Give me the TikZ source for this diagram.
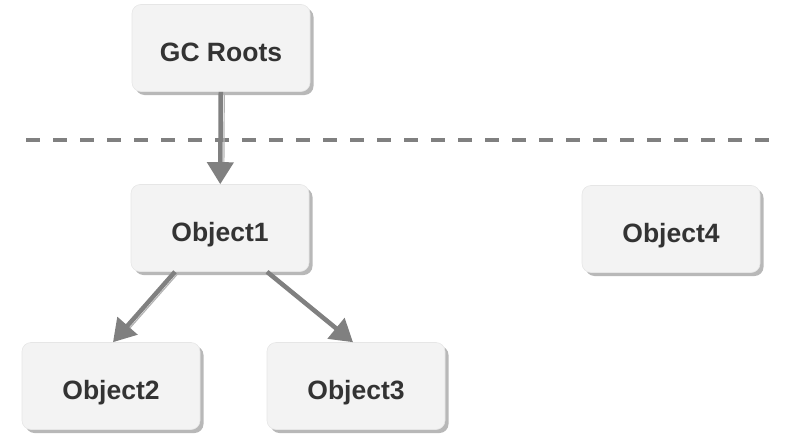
\documentclass[tikz,border=0pt]{standalone}
\usepackage{fontspec}
\setsansfont{Liberation Sans}
\usetikzlibrary{arrows.meta, positioning, shadows}
\definecolor{cfill}{HTML}{F3F3F3}
\definecolor{cedge}{HTML}{E6E6E6}
\definecolor{cshadow}{HTML}{B8B8B8}
\definecolor{cline}{HTML}{808080}
\definecolor{ctext}{HTML}{333333}
\tikzset{
  every picture/.style={font=\sffamily\bfseries\fontsize{26.5}{30}\selectfont, line width=1.2pt},
  box/.style={draw=cedge, line width=0.6pt, fill=cfill, rounded corners=9pt, text=ctext,
    minimum width=178pt, minimum height=87pt, text height=28pt, text depth=1.4pt,
    drop shadow={shadow xshift=3.5pt, shadow yshift=-3.5pt, fill=cshadow, opacity=1}},
  arrow/.style={-{Triangle[length=22pt,width=26pt]}, draw=cline, line width=4.5pt,
    preaction={draw=cline!60, -, shorten >=18pt, transform canvas={shift={(3.5pt,-1pt)}}}},
  cut/.style={draw=cline, line width=4.5pt, dash pattern=on 13.5pt off 13.5pt},
}

\begin{document}
\begin{tikzpicture}[x=1pt, y=-1pt]
  \useasboundingbox (0,0) rectangle (792,447);
  % reachable from the roots
  \node[box] (roots) at (221,48) {GC Roots};
  \coordinate (cutL) at (26,140);
  \coordinate (cutR) at (770,140);
  \draw[cut] (cutL) -- (cutR);
  \node[box] (o1) at (220,228) {Object1};
  \node[box] (o2) at (111,386) {Object2};
  \node[box] (o3) at (356,386) {Object3};
  % unreachable
  \node[box] (o4) at (671,229) {Object4};
  \draw[arrow] (roots) -- (o1);
  \draw[arrow] ([xshift=-45pt]o1.south) -- ([xshift=2pt]o2.north);
  \draw[arrow] ([xshift=47pt]o1.south) -- ([xshift=-3pt]o3.north);
\end{tikzpicture}
\end{document}
